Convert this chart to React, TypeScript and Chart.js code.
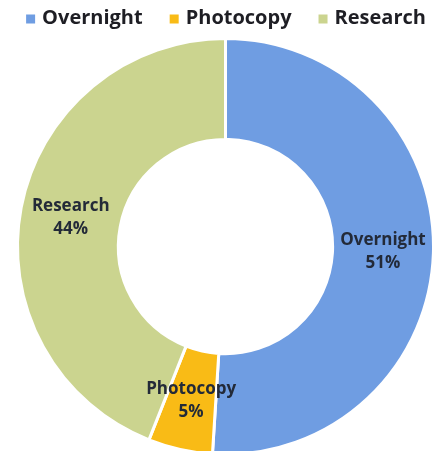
import React, { useEffect, useRef } from "react";
import { Chart, registerables } from "chart.js";

Chart.register(...registerables);

const categories = ["Overnight", "Photocopy", "Research"];
const values = [51, 5, 44];
const percentLabels = ["51%", "5%", "44%"];
const colors = ["#6f9de2", "#f9bb16", "#cbd48f"];

const labelPlugin = {
  id: "sliceLabels",
  afterDatasetsDraw(chart: any) {
    const ctx = chart.ctx;
    const meta = chart.getDatasetMeta(0);
    ctx.save();
    ctx.fillStyle = "#232a38";
    ctx.font = "bold 17px 'Open Sans'";
    ctx.textAlign = "center";
    ctx.textBaseline = "middle";
    meta.data.forEach((arc: any, i: number) => {
      const p = arc.tooltipPosition();
      ctx.fillText(categories[i], p.x, p.y - 11);
      ctx.fillText(percentLabels[i], p.x, p.y + 12);
    });
    ctx.restore();
  },
};

const legendPlugin = {
  id: "topLegend",
  afterDraw(chart: any) {
    const ctx = chart.ctx;
    ctx.save();
    ctx.font = "bold 20px 'Open Sans'";
    ctx.textBaseline = "middle";
    ctx.textAlign = "left";
    const box = 9;
    const gap = 7;
    const spacing = 27;
    const widths = categories.map((c) => ctx.measureText(c).width);
    const total =
      widths.reduce((a, w) => a + box + gap + w, 0) + spacing * (categories.length - 1);
    let x = (chart.width - total) / 2 + 4;
    const y = 18;
    categories.forEach((c, i) => {
      ctx.fillStyle = colors[i];
      ctx.fillRect(x, y - box / 2 + 1, box, box);
      ctx.fillStyle = "#1e1e24";
      ctx.fillText(c, x + box + gap, y);
      x += box + gap + widths[i] + spacing;
    });
    ctx.restore();
  },
};

export default function App() {
  const ref = useRef<HTMLCanvasElement | null>(null);
  useEffect(() => {
    if (!ref.current) return;
    const chart = new Chart(ref.current, {
      type: "doughnut",
      data: {
        labels: categories,
        datasets: [
          {
            data: values,
            backgroundColor: colors,
            borderColor: "#ffffff",
            borderWidth: 3,
          },
        ],
      },
      options: {
        animation: false,
        responsive: true,
        maintainAspectRatio: false,
        cutout: "51.5%",
        layout: { padding: { left: 16, right: 9, top: 37, bottom: 0 } },
        plugins: {
          tooltip: { enabled: false },
          legend: { display: false },
        },
      },
      plugins: [labelPlugin, legendPlugin],
    });
    return () => chart.destroy();
  }, []);
  return (
    <div
      style={{
        position: "fixed",
        left: 0,
        top: 0,
        width: 444,
        height: 451,
        overflow: "hidden",
        background: "#ffffff",
      }}
    >
      <div style={{ position: "relative", width: 444, height: 456 }}>
        <canvas ref={ref} />
      </div>
    </div>
  );
}
